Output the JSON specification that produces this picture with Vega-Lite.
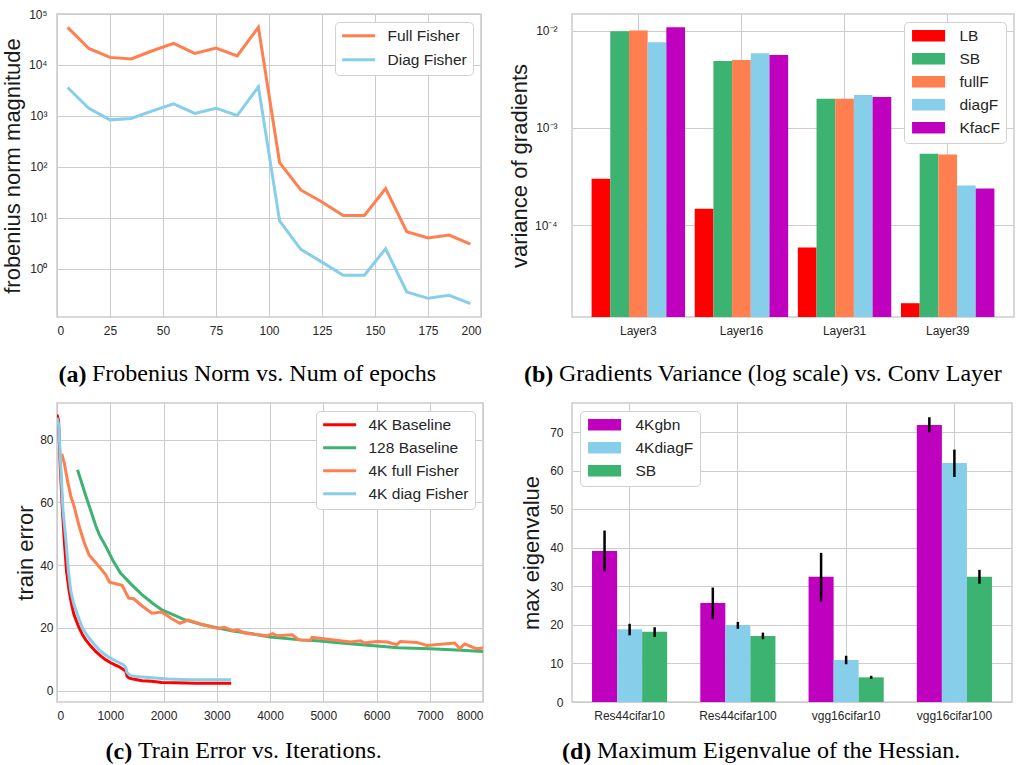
{
  "$schema": "https://vega.github.io/schema/vega-lite/v6.json",
  "background": "white",
  "padding": {"left": 0, "top": 7, "right": 0, "bottom": 0},
  "bounds": "flush",
  "columns": 2,
  "spacing": {"row": 86, "column": 89},
  "resolve": {"scale": {"color": "independent", "xOffset": "independent", "x": "independent", "y": "independent"}, "legend": {"color": "independent"}},
  "config": {
    "font": "Liberation Sans",
    "view": {"stroke": "#cccccc", "strokeWidth": 1.5},
    "axis": {
      "ticks": false, "tickSize": 0, "domain": false, "grid": true,
      "gridColor": "#cccccc", "gridWidth": 1,
      "labelFont": "Liberation Sans", "labelFontSize": 12, "labelColor": "#262626",
      "titleFont": "Liberation Sans", "titleFontSize": 22, "titleFontWeight": "normal", "titleColor": "#1a1a1a",
      "labelPadding": 8
    },
    "axisX": {
      "titleFont": "Liberation Serif", "titleFontSize": 24, "titleFontWeight": "bold", "titleColor": "#000000",
      "titleAlign": "left", "titleBaseline": "alphabetic", "titleAngle": 0
    },
    "legend": {
      "title": null, "labelFont": "Liberation Sans", "labelFontSize": 15.5, "labelColor": "#262626",
      "fillColor": "white", "strokeColor": "#d0d0d0", "cornerRadius": 4,
      "padding": 6, "rowPadding": 7, "offset": 8
    },
    "title": {"font": "Liberation Serif", "fontSize": 24, "fontWeight": "normal", "color": "#000000", "orient": "bottom", "baseline": "top", "anchor": "start", "frame": "group"}
  },
  "concat": [
        {
          "width": 424, "height": 303,
          "title": {"text": "Frobenius Norm vs. Num of epochs", "offset": -24, "dx": 35},
          "data": {"values": [
            {"epoch": 5, "s": "Full Fisher", "v": 54700}, {"epoch": 15, "s": "Full Fisher", "v": 21100},
            {"epoch": 25, "s": "Full Fisher", "v": 14100}, {"epoch": 35, "s": "Full Fisher", "v": 13100},
            {"epoch": 45, "s": "Full Fisher", "v": 19000}, {"epoch": 55, "s": "Full Fisher", "v": 26500},
            {"epoch": 65, "s": "Full Fisher", "v": 16900}, {"epoch": 75, "s": "Full Fisher", "v": 21500},
            {"epoch": 85, "s": "Full Fisher", "v": 15000}, {"epoch": 95, "s": "Full Fisher", "v": 54700},
            {"epoch": 105, "s": "Full Fisher", "v": 122}, {"epoch": 115, "s": "Full Fisher", "v": 35.4},
            {"epoch": 125, "s": "Full Fisher", "v": 20.6}, {"epoch": 135, "s": "Full Fisher", "v": 11.2},
            {"epoch": 145, "s": "Full Fisher", "v": 11.2}, {"epoch": 155, "s": "Full Fisher", "v": 37.6},
            {"epoch": 165, "s": "Full Fisher", "v": 5.37}, {"epoch": 175, "s": "Full Fisher", "v": 4.03},
            {"epoch": 185, "s": "Full Fisher", "v": 4.62}, {"epoch": 195, "s": "Full Fisher", "v": 3.08},
            {"epoch": 5, "s": "Diag Fisher", "v": 3620}, {"epoch": 15, "s": "Diag Fisher", "v": 1420},
            {"epoch": 25, "s": "Diag Fisher", "v": 839}, {"epoch": 35, "s": "Diag Fisher", "v": 891},
            {"epoch": 45, "s": "Diag Fisher", "v": 1260}, {"epoch": 55, "s": "Diag Fisher", "v": 1730},
            {"epoch": 65, "s": "Diag Fisher", "v": 1120}, {"epoch": 75, "s": "Diag Fisher", "v": 1420},
            {"epoch": 85, "s": "Diag Fisher", "v": 1020}, {"epoch": 95, "s": "Diag Fisher", "v": 3730},
            {"epoch": 105, "s": "Diag Fisher", "v": 8.71}, {"epoch": 115, "s": "Diag Fisher", "v": 2.42},
            {"epoch": 125, "s": "Diag Fisher", "v": 1.36}, {"epoch": 135, "s": "Diag Fisher", "v": 0.751},
            {"epoch": 145, "s": "Diag Fisher", "v": 0.751}, {"epoch": 155, "s": "Diag Fisher", "v": 2.49},
            {"epoch": 165, "s": "Diag Fisher", "v": 0.353}, {"epoch": 175, "s": "Diag Fisher", "v": 0.265},
            {"epoch": 185, "s": "Diag Fisher", "v": 0.304}, {"epoch": 195, "s": "Diag Fisher", "v": 0.208}
          ]},
          "mark": {"type": "line", "strokeWidth": 3, "clip": true},
          "encoding": {
            "x": {"field": "epoch", "type": "quantitative",
              "scale": {"domain": [0, 200], "nice": false},
              "axis": {"values": [0, 25, 50, 75, 100, 125, 150, 175, 200], "title": "(a)", "titleX": 1, "titleY": 64}},
            "y": {"field": "v", "type": "quantitative",
              "scale": {"type": "log", "domain": [0.114, 100000], "nice": false},
              "axis": {"values": [1, 10, 100, 1000, 10000, 100000], "labelPadding": 10,
                "labelExpr": "'10' + ['⁰','¹','²','³','⁴','⁵'][round(log(datum.value)/LN10)]",
                "title": "frobenius norm magnitude", "titleX": -38, "titleBaseline": "alphabetic"}},
            "color": {"field": "s", "type": "nominal",
              "scale": {"domain": ["Full Fisher", "Diag Fisher"], "range": ["#ff7f50", "#87ceeb"]},
              "legend": {"orient": "top-right", "symbolType": "M-2.2,0H8.8", "symbolSize": 36, "symbolStrokeWidth": 3, "labelOffset": 31}}
          }
        },
        {
          "width": 442, "height": 303,
          "title": {"text": "Gradients Variance (log scale) vs. Conv Layer", "offset": -24, "dx": -13},
          "data": {"values": [
            {"layer": "Layer3", "s": "LB", "v": 0.0003}, {"layer": "Layer3", "s": "SB", "v": 0.00984},
            {"layer": "Layer3", "s": "fullF", "v": 0.0100}, {"layer": "Layer3", "s": "diagF", "v": 0.0076},
            {"layer": "Layer3", "s": "KfacF", "v": 0.0108},
            {"layer": "Layer16", "s": "LB", "v": 0.000148}, {"layer": "Layer16", "s": "SB", "v": 0.00486},
            {"layer": "Layer16", "s": "fullF", "v": 0.00498}, {"layer": "Layer16", "s": "diagF", "v": 0.00586},
            {"layer": "Layer16", "s": "KfacF", "v": 0.0056},
            {"layer": "Layer31", "s": "LB", "v": 0.000059}, {"layer": "Layer31", "s": "SB", "v": 0.00199},
            {"layer": "Layer31", "s": "fullF", "v": 0.00199}, {"layer": "Layer31", "s": "diagF", "v": 0.00218},
            {"layer": "Layer31", "s": "KfacF", "v": 0.00208},
            {"layer": "Layer39", "s": "LB", "v": 0.0000158}, {"layer": "Layer39", "s": "SB", "v": 0.000541},
            {"layer": "Layer39", "s": "fullF", "v": 0.000532}, {"layer": "Layer39", "s": "diagF", "v": 0.000256},
            {"layer": "Layer39", "s": "KfacF", "v": 0.000239}
          ]},
          "mark": {"type": "bar", "clip": true},
          "encoding": {
            "x": {"field": "layer", "type": "nominal", "sort": ["Layer3", "Layer16", "Layer31", "Layer39"],
              "scale": {"paddingInner": 0.094, "paddingOuter": 0.19},
              "axis": {"labelAngle": 0, "title": "(b)", "titleX": -48.5, "titleY": 64, "bandPosition": 0.5}},
            "xOffset": {"field": "s", "type": "nominal", "sort": ["LB", "SB", "fullF", "diagF", "KfacF"],
              "scale": {"paddingInner": 0, "paddingOuter": 0}},
            "y": {"field": "v", "type": "quantitative",
              "scale": {"type": "log", "domain": [0.0000114, 0.0148], "nice": false},
              "axis": {"values": [0.0001, 0.001, 0.01], "labelPadding": 15,
                "labelExpr": "'10⁻' + ['','¹','²','³','⁴'][round(-log(datum.value)/LN10)]",
                "title": "variance of gradients", "titleX": -46, "titleBaseline": "alphabetic"}},
            "y2": {"datum": 0.0000114},
            "color": {"field": "s", "type": "nominal",
              "scale": {"domain": ["LB", "SB", "fullF", "diagF", "KfacF"], "range": ["#ff0000", "#3cb371", "#ff7f50", "#87ceeb", "#bf00bf"]},
              "legend": {"orient": "top-right", "symbolType": "M-1,-1H4.8V1H-1Z", "symbolSize": 130, "symbolStrokeWidth": 0, "labelOffset": 34, "rowPadding": 6}}
          }
        },
        {
          "width": 426, "height": 299,
          "title": {"text": "Train Error vs. Iterations.", "offset": -24, "dx": 81},
          "data": {"values": [
            {"it": 0, "s": "4K Baseline", "e": 88}, {"it": 30, "s": "4K Baseline", "e": 86}, {"it": 60, "s": "4K Baseline", "e": 72},
            {"it": 100, "s": "4K Baseline", "e": 58}, {"it": 140, "s": "4K Baseline", "e": 47}, {"it": 180, "s": "4K Baseline", "e": 38},
            {"it": 230, "s": "4K Baseline", "e": 31.5}, {"it": 280, "s": "4K Baseline", "e": 27}, {"it": 320, "s": "4K Baseline", "e": 24.2},
            {"it": 370, "s": "4K Baseline", "e": 22}, {"it": 416, "s": "4K Baseline", "e": 20}, {"it": 480, "s": "4K Baseline", "e": 17.8},
            {"it": 540, "s": "4K Baseline", "e": 16.2}, {"it": 630, "s": "4K Baseline", "e": 14.3}, {"it": 726, "s": "4K Baseline", "e": 12.5},
            {"it": 820, "s": "4K Baseline", "e": 11.1}, {"it": 912, "s": "4K Baseline", "e": 9.9}, {"it": 1000, "s": "4K Baseline", "e": 9.0},
            {"it": 1080, "s": "4K Baseline", "e": 8.3}, {"it": 1160, "s": "4K Baseline", "e": 7.7}, {"it": 1253, "s": "4K Baseline", "e": 6.7},
            {"it": 1290, "s": "4K Baseline", "e": 6.3}, {"it": 1315, "s": "4K Baseline", "e": 4.6}, {"it": 1350, "s": "4K Baseline", "e": 4.1},
            {"it": 1408, "s": "4K Baseline", "e": 3.8}, {"it": 1500, "s": "4K Baseline", "e": 3.5}, {"it": 1600, "s": "4K Baseline", "e": 3.2},
            {"it": 1780, "s": "4K Baseline", "e": 3.0}, {"it": 1967, "s": "4K Baseline", "e": 2.6}, {"it": 2200, "s": "4K Baseline", "e": 2.5},
            {"it": 2600, "s": "4K Baseline", "e": 2.4}, {"it": 3000, "s": "4K Baseline", "e": 2.4}, {"it": 3270, "s": "4K Baseline", "e": 2.4},
            {"it": 385, "s": "128 Baseline", "e": 70.4}, {"it": 545, "s": "128 Baseline", "e": 61.9}, {"it": 731, "s": "128 Baseline", "e": 52.4},
            {"it": 800, "s": "128 Baseline", "e": 49.5}, {"it": 917, "s": "128 Baseline", "e": 46}, {"it": 1050, "s": "128 Baseline", "e": 41.5},
            {"it": 1192, "s": "128 Baseline", "e": 37.5}, {"it": 1400, "s": "128 Baseline", "e": 33.8}, {"it": 1595, "s": "128 Baseline", "e": 30.6},
            {"it": 1800, "s": "128 Baseline", "e": 27.8}, {"it": 1967, "s": "128 Baseline", "e": 25.8}, {"it": 2200, "s": "128 Baseline", "e": 24.1},
            {"it": 2400, "s": "128 Baseline", "e": 22.6}, {"it": 2700, "s": "128 Baseline", "e": 21.2}, {"it": 3022, "s": "128 Baseline", "e": 20},
            {"it": 3300, "s": "128 Baseline", "e": 19}, {"it": 3642, "s": "128 Baseline", "e": 18.2}, {"it": 4000, "s": "128 Baseline", "e": 17.1},
            {"it": 4572, "s": "128 Baseline", "e": 16.2}, {"it": 4883, "s": "128 Baseline", "e": 15.9}, {"it": 5500, "s": "128 Baseline", "e": 15.0},
            {"it": 6124, "s": "128 Baseline", "e": 14.1}, {"it": 6400, "s": "128 Baseline", "e": 13.7}, {"it": 7000, "s": "128 Baseline", "e": 13.4},
            {"it": 7500, "s": "128 Baseline", "e": 13.0}, {"it": 8000, "s": "128 Baseline", "e": 12.5},
            {"it": 90, "s": "4K full Fisher", "e": 75.5}, {"it": 138, "s": "4K full Fisher", "e": 72.5}, {"it": 200, "s": "4K full Fisher", "e": 66.7},
            {"it": 261, "s": "4K full Fisher", "e": 61.9}, {"it": 323, "s": "4K full Fisher", "e": 58.7}, {"it": 416, "s": "4K full Fisher", "e": 52.4},
            {"it": 509, "s": "4K full Fisher", "e": 47.3}, {"it": 602, "s": "4K full Fisher", "e": 43.3}, {"it": 757, "s": "4K full Fisher", "e": 40.2},
            {"it": 912, "s": "4K full Fisher", "e": 37}, {"it": 986, "s": "4K full Fisher", "e": 34.6}, {"it": 1222, "s": "4K full Fisher", "e": 33.6},
            {"it": 1346, "s": "4K full Fisher", "e": 29.5}, {"it": 1440, "s": "4K full Fisher", "e": 29.3}, {"it": 1600, "s": "4K full Fisher", "e": 27},
            {"it": 1780, "s": "4K full Fisher", "e": 24.7}, {"it": 1967, "s": "4K full Fisher", "e": 25.1}, {"it": 2150, "s": "4K full Fisher", "e": 23},
            {"it": 2307, "s": "4K full Fisher", "e": 21.5}, {"it": 2463, "s": "4K full Fisher", "e": 22.5}, {"it": 2711, "s": "4K full Fisher", "e": 21.2},
            {"it": 3022, "s": "4K full Fisher", "e": 19.8}, {"it": 3146, "s": "4K full Fisher", "e": 20.2}, {"it": 3301, "s": "4K full Fisher", "e": 19.1},
            {"it": 3394, "s": "4K full Fisher", "e": 19.4}, {"it": 3518, "s": "4K full Fisher", "e": 18.4}, {"it": 3953, "s": "4K full Fisher", "e": 17.5},
            {"it": 4046, "s": "4K full Fisher", "e": 18.2}, {"it": 4139, "s": "4K full Fisher", "e": 17.5}, {"it": 4418, "s": "4K full Fisher", "e": 17.8},
            {"it": 4542, "s": "4K full Fisher", "e": 16.2}, {"it": 4760, "s": "4K full Fisher", "e": 16.1}, {"it": 4790, "s": "4K full Fisher", "e": 17},
            {"it": 5516, "s": "4K full Fisher", "e": 15.5}, {"it": 5702, "s": "4K full Fisher", "e": 15.9}, {"it": 5764, "s": "4K full Fisher", "e": 15.2},
            {"it": 6013, "s": "4K full Fisher", "e": 15.7}, {"it": 6199, "s": "4K full Fisher", "e": 15.5}, {"it": 6385, "s": "4K full Fisher", "e": 14.7},
            {"it": 6447, "s": "4K full Fisher", "e": 15.7}, {"it": 6757, "s": "4K full Fisher", "e": 15.4}, {"it": 6943, "s": "4K full Fisher", "e": 14.4},
            {"it": 7470, "s": "4K full Fisher", "e": 15.2}, {"it": 7563, "s": "4K full Fisher", "e": 13.4}, {"it": 7656, "s": "4K full Fisher", "e": 14.9},
            {"it": 7873, "s": "4K full Fisher", "e": 13.4}, {"it": 8000, "s": "4K full Fisher", "e": 13.6},
            {"it": 0, "s": "4K diag Fisher", "e": 87}, {"it": 30, "s": "4K diag Fisher", "e": 85}, {"it": 70, "s": "4K diag Fisher", "e": 72},
            {"it": 110, "s": "4K diag Fisher", "e": 58}, {"it": 169, "s": "4K diag Fisher", "e": 47.6}, {"it": 215, "s": "4K diag Fisher", "e": 38},
            {"it": 261, "s": "4K diag Fisher", "e": 31.6}, {"it": 310, "s": "4K diag Fisher", "e": 28}, {"it": 354, "s": "4K diag Fisher", "e": 25.7},
            {"it": 420, "s": "4K diag Fisher", "e": 22.5}, {"it": 478, "s": "4K diag Fisher", "e": 20}, {"it": 540, "s": "4K diag Fisher", "e": 18.3},
            {"it": 602, "s": "4K diag Fisher", "e": 16.8}, {"it": 700, "s": "4K diag Fisher", "e": 14.8}, {"it": 788, "s": "4K diag Fisher", "e": 13.1},
            {"it": 880, "s": "4K diag Fisher", "e": 11.8}, {"it": 975, "s": "4K diag Fisher", "e": 10.7}, {"it": 1070, "s": "4K diag Fisher", "e": 9.8},
            {"it": 1160, "s": "4K diag Fisher", "e": 9.0}, {"it": 1253, "s": "4K diag Fisher", "e": 8.2}, {"it": 1290, "s": "4K diag Fisher", "e": 7.5},
            {"it": 1315, "s": "4K diag Fisher", "e": 5.8}, {"it": 1378, "s": "4K diag Fisher", "e": 4.8}, {"it": 1500, "s": "4K diag Fisher", "e": 4.5},
            {"it": 1780, "s": "4K diag Fisher", "e": 4.1}, {"it": 2092, "s": "4K diag Fisher", "e": 3.7}, {"it": 2500, "s": "4K diag Fisher", "e": 3.5},
            {"it": 3270, "s": "4K diag Fisher", "e": 3.5}
          ]},
          "mark": {"type": "line", "strokeWidth": 3, "clip": true},
          "encoding": {
            "x": {"field": "it", "type": "quantitative",
              "scale": {"domain": [0, 8000], "nice": false},
              "axis": {"values": [0, 1000, 2000, 3000, 4000, 5000, 6000, 7000, 8000], "format": "d", "title": "(c)", "titleX": 48, "titleY": 56}},
            "y": {"field": "e", "type": "quantitative",
              "scale": {"domain": [-3.6, 91.7], "nice": false, "zero": false},
              "axis": {"values": [0, 20, 40, 60, 80], "labelPadding": 4,
                "title": "train error", "titleX": -25, "titleBaseline": "alphabetic"}},
            "color": {"field": "s", "type": "nominal",
              "scale": {"domain": ["4K Baseline", "128 Baseline", "4K full Fisher", "4K diag Fisher"], "range": ["#ff0000", "#3cb371", "#ff7f50", "#87ceeb"]},
              "legend": {"orient": "top-right", "symbolType": "M-2.2,0H8.8", "symbolSize": 36, "symbolStrokeWidth": 3, "labelOffset": 31, "rowPadding": 6}}
          }
        },
        {
          "width": 440, "height": 299,
          "title": {"text": "Maximum Eigenvalue of the Hessian.", "offset": -24, "dx": 25},
          "data": {"values": [
            {"d": "Res44cifar10", "s": "4Kgbn", "v": 39.2, "lo": 33.9, "hi": 44.5},
            {"d": "Res44cifar10", "s": "4KdiagF", "v": 18.9, "lo": 17.3, "hi": 20.3},
            {"d": "Res44cifar10", "s": "SB", "v": 18.2, "lo": 16.9, "hi": 19.4},
            {"d": "Res44cifar100", "s": "4Kgbn", "v": 25.7, "lo": 21.5, "hi": 29.7},
            {"d": "Res44cifar100", "s": "4KdiagF", "v": 20.0, "lo": 19.0, "hi": 20.8},
            {"d": "Res44cifar100", "s": "SB", "v": 17.1, "lo": 16.3, "hi": 18.0},
            {"d": "vgg16cifar10", "s": "4Kgbn", "v": 32.5, "lo": 26.1, "hi": 38.7},
            {"d": "vgg16cifar10", "s": "4KdiagF", "v": 10.9, "lo": 9.8, "hi": 12.0},
            {"d": "vgg16cifar10", "s": "SB", "v": 6.4, "lo": 6.0, "hi": 6.8},
            {"d": "vgg16cifar100", "s": "4Kgbn", "v": 71.9, "lo": 70.0, "hi": 73.9},
            {"d": "vgg16cifar100", "s": "4KdiagF", "v": 62.0, "lo": 58.4, "hi": 65.5},
            {"d": "vgg16cifar100", "s": "SB", "v": 32.5, "lo": 30.7, "hi": 34.3}
          ]},
          "encoding": {
            "x": {"field": "d", "type": "nominal", "sort": ["Res44cifar10", "Res44cifar100", "vgg16cifar10", "vgg16cifar100"],
              "scale": {"paddingInner": 0.306, "paddingOuter": 0.185},
              "axis": {"labelAngle": 0, "title": "(d)", "titleX": -10.5, "titleY": 56, "bandPosition": 0.5}},
            "xOffset": {"field": "s", "type": "nominal", "sort": ["4Kgbn", "4KdiagF", "SB"],
              "scale": {"paddingInner": 0, "paddingOuter": 0}}
          },
          "layer": [
            {
              "mark": {"type": "bar"},
              "encoding": {
                "y": {"field": "v", "type": "quantitative",
                  "scale": {"domain": [0, 77.6], "nice": false},
                  "axis": {"values": [0, 10, 20, 30, 40, 50, 60, 70], "labelPadding": 9,
                    "title": "max eigenvalue", "titleX": -34, "titleBaseline": "alphabetic"}},
                "color": {"field": "s", "type": "nominal",
                  "scale": {"domain": ["4Kgbn", "4KdiagF", "SB"], "range": ["#bf00bf", "#87ceeb", "#3cb371"]},
                  "legend": {"orient": "top-left", "symbolType": "M-1,-1H4.8V1H-1Z", "symbolSize": 130, "symbolStrokeWidth": 0, "labelOffset": 34, "rowPadding": 6}}
              }
            },
            {
              "mark": {"type": "rule", "color": "#000000", "strokeWidth": 2.5},
              "encoding": {
                "y": {"field": "lo", "type": "quantitative"},
                "y2": {"field": "hi"}
              }
            }
          ]
        }
  ]
}
